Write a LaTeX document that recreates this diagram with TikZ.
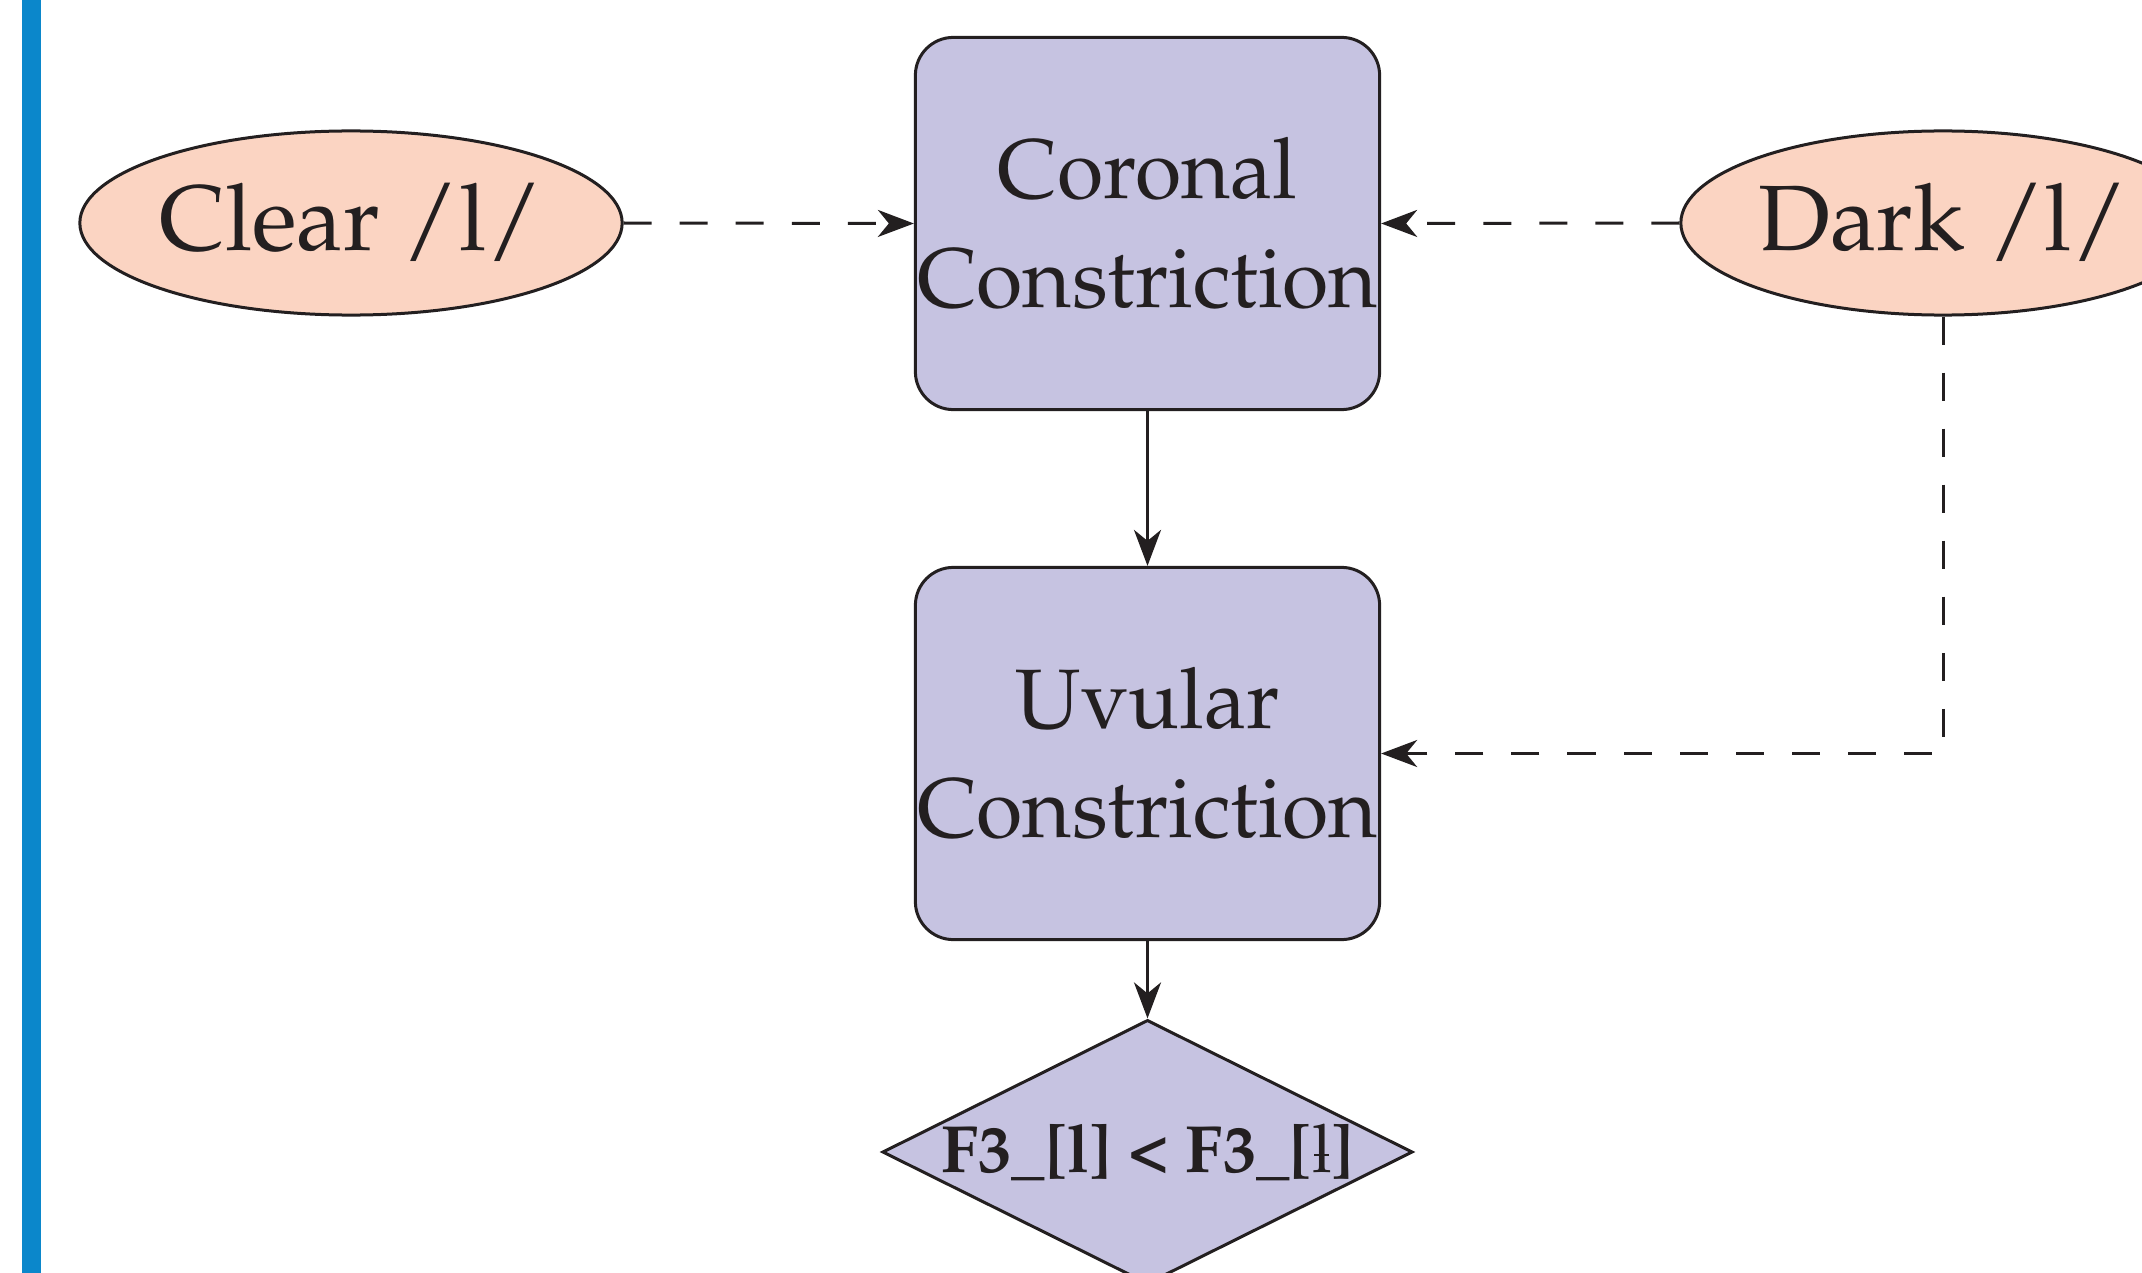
\documentclass[tikz,border=0pt]{standalone}
\usepackage[T1]{fontenc}
\usepackage{mathpazo}
\usetikzlibrary{shapes.geometric,arrows.meta}

\definecolor{inkc}{HTML}{231F20}
\definecolor{boxfill}{HTML}{C6C3E1}
\definecolor{ovalfill}{HTML}{FBD4C2}
\definecolor{barblue}{HTML}{0B87CB}

% velarized l: a light l crossed by a short bar
\newcommand{\velarl}{\ooalign{\mdseries l\cr\hidewidth\rule[0.24em]{0.22em}{0.035em}\hidewidth\cr}}

\tikzset{
  procbox/.style={rectangle, rounded corners=0.38cm, draw=inkc, fill=boxfill,
    line width=0.03cm, minimum width=4.64cm, minimum height=3.72cm, inner sep=0pt,
    align=center, text=inkc, font=\fontsize{24}{30.8}\selectfont},
  soundoval/.style={ellipse, draw=inkc, fill=ovalfill, line width=0.03cm,
    minimum width=5.42cm, minimum height=1.84cm, inner sep=0pt, text=inkc,
    font=\fontsize{26.4}{31}\selectfont},
  testbox/.style={diamond, draw=inkc, fill=boxfill, line width=0.03cm, aspect=2,
    minimum width=5.30cm, minimum height=2.64cm, inner sep=0pt, text=inkc,
    font=\fontsize{19}{23}\selectfont\bfseries},
  conn/.style={draw=inkc, line width=0.03cm,
    -{Stealth[length=0.36cm, width=0.27cm, inset=0.11cm]}},
  dashconn/.style={conn, dash pattern=on 0.28cm off 0.28cm},
}

\begin{document}
\begin{tikzpicture}[x=0.01cm, y=-0.01cm]
  \useasboundingbox (0,0) rectangle (2142,1273);
  % side rule
  \fill[barblue] (22,0) rectangle (41,1273);

  \node[soundoval] (clear) at (351,223) {Clear /l/};
  \node[soundoval, minimum width=5.24cm] (dark) at (1943,223) {Dark /l/};
  \node[procbox] (coronal) at (1147.5,223.5) {Coronal\\Constriction};
  \node[procbox] (uvular) at (1147.5,753.5) {Uvular\\Constriction};
  \node[testbox] (test) at (1147.5,1152) {F3\_[l] < F3\_[\velarl]};

  \draw[dashconn] (clear.east) -- (coronal.west);
  \draw[dashconn] (dark.west) -- (coronal.east);
  \draw[dashconn] (dark.south) |- (uvular.east);
  \draw[conn] (coronal.south) -- (uvular.north);
  \draw[conn] (uvular.south) -- (test.north);
\end{tikzpicture}
\end{document}
